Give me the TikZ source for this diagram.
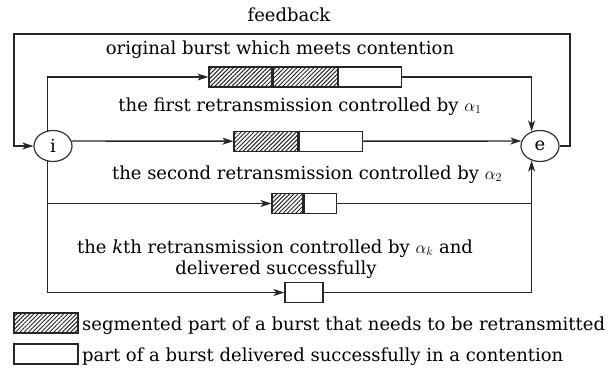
\documentclass[tikz,border=0pt]{standalone}
\usepackage{fontspec}
\setmainfont{DejaVu Serif}
\usetikzlibrary{shapes.geometric,arrows.meta,patterns.meta}
\begin{document}
\begin{tikzpicture}[x=1pt,y=-1pt,
  font=\fontsize{18}{22}\selectfont,
  every node/.style={inner sep=0pt},
  line/.style={line width=1.4pt, draw=black!85},
  arr/.style={line, -{Stealth[length=11pt,width=7pt,inset=3pt]}},
  endpt/.style={ellipse, draw=black!80, line width=1.2pt, minimum width=38pt, minimum height=31pt},
  hbox/.style={draw=black!85, line width=1.2pt, pattern={Lines[angle=45,distance=3pt,line width=1pt]}, pattern color=black!85, minimum height=20pt},
  wbox/.style={draw=black!85, line width=1.2pt, fill=white, minimum height=20pt}]
\useasboundingbox (0,0) rectangle (612,369);

% end points
\node[endpt] (i) at (53,146) {i};
\node[endpt] (e) at (540,146) {e};

% bursts
\node[hbox, minimum width=63pt] (b1a) at (240.5,77) {};
\node[hbox, minimum width=64pt, anchor=west] (b1b) at (b1a.east) {};
\node[wbox, minimum width=63pt, anchor=west] (b1c) at (b1b.east) {};

\node[hbox, minimum width=64pt] (b2a) at (266,141.2) {};
\node[wbox, minimum width=63pt, anchor=west] (b2b) at (b2a.east) {};

\node[hbox, minimum width=31pt] (b3a) at (287.5,203.5) {};
\node[wbox, minimum width=32pt, anchor=west] (b3b) at (b3a.east) {};

\node[wbox, minimum width=38pt] (b4) at (304,292.5) {};

% labels
\node[anchor=base] (fb) at (289,22) {feedback};
\node[anchor=base] (t0) at (280,55) {original burst which meets contention};
\node[anchor=base] (t1) at (300,111) {the first retransmission controlled by $\alpha_1$};
\node[anchor=base] (t2) at (307,179) {the second retransmission controlled by $\alpha_2$};
\node[anchor=base] (tk) at (275,253) {the \textit{k}th retransmission controlled by $\alpha_k$ and};
\node[anchor=base] (tk2) at (276,274) {delivered successfully};

% legend
\node[hbox, minimum width=64pt, minimum height=20pt] (lh) at (46,323) {};
\node[wbox, minimum width=64pt, minimum height=20pt] (lw) at (46,354) {};
\node[anchor=base west] (lht) at (82,330) {segmented part of a burst that needs to be retransmitted};
\node[anchor=base west] (lwt) at (82,361) {part of a burst delivered successfully in a contention};

% connectors
\coordinate (fbR) at (570,34);
\coordinate (fbL) at (14,34);
\draw[arr] (e.east) -| (fbR) -- (fbL) |- (i.west);
\draw[arr] (i.110) |- (b1a.west);
\draw[arr] (b1c.east) -| (e.120);
\draw[arr] (i.15) -- (b2a.west);
\draw[arr] (b2b.east) -- (e.165);
\draw[arr] (i.250) |- (b3a.west);
\draw[arr] (b3b.east) -| (e.240);
\draw[arr] (i.250) |- (b4.west);
\draw[line] (b4.east) -| (e.240);
\end{tikzpicture}
\end{document}
